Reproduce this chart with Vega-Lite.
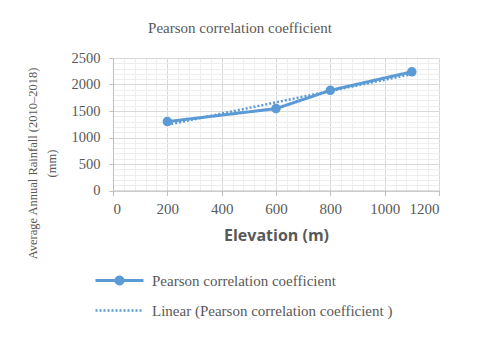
{
  "$schema": "https://vega.github.io/schema/vega-lite/v6.json",
  "width": 326,
  "height": 132.5,
  "autosize": "none",
  "padding": {"left": 113, "top": 58, "right": 41, "bottom": 146.5},
  "background": "white",
  "config": {
    "view": {"stroke": null},
    "font": "Liberation Serif",
    "axis": {"labelFont": "Liberation Serif"}
  },
  "title": {
    "text": "Pearson correlation coefficient",
    "font": "Liberation Serif",
    "fontSize": 15,
    "fontWeight": "normal",
    "color": "#595959",
    "anchor": "middle",
    "dx": -36,
    "offset": 14
  },
  "data": {
    "values": [
      {"elevation": 200, "rainfall": 1300, "series": "Pearson correlation coefficient", "trend": "Linear (Pearson correlation coefficient )"},
      {"elevation": 600, "rainfall": 1545, "series": "Pearson correlation coefficient", "trend": "Linear (Pearson correlation coefficient )"},
      {"elevation": 800, "rainfall": 1890, "series": "Pearson correlation coefficient", "trend": "Linear (Pearson correlation coefficient )"},
      {"elevation": 1100, "rainfall": 2240, "series": "Pearson correlation coefficient", "trend": "Linear (Pearson correlation coefficient )"}
    ]
  },
  "resolve": {"axis": {"x": "independent", "y": "independent"}},
  "layer": [
    {
      "mark": {"type": "point", "opacity": 0},
      "encoding": {
        "x": {"field": "elevation", "type": "quantitative", "scale": {"domain": [0, 1200], "nice": false},
          "axis": {"orient": "bottom", "values": [40,80,120,160,240,280,320,360,440,480,520,560,640,680,720,760,840,880,920,960,1040,1080,1120,1160], "labels": false, "ticks": false, "domain": false, "title": null, "grid": true, "gridColor": "#eeeeee", "gridWidth": 1}},
        "y": {"field": "rainfall", "type": "quantitative", "scale": {"domain": [0, 2500], "nice": false},
          "axis": {"orient": "left", "values": [100,200,300,400,600,700,800,900,1100,1200,1300,1400,1600,1700,1800,1900,2100,2200,2300,2400], "labels": false, "ticks": false, "domain": false, "title": null, "grid": true, "gridColor": "#eeeeee", "gridWidth": 1}}
      }
    },
    {
      "transform": [{"regression": "rainfall", "on": "elevation", "groupby": ["trend"]}],
      "mark": {"type": "line", "color": "#5B9BD5", "strokeWidth": 2.5, "strokeDash": [2, 2]},
      "encoding": {
        "x": {"field": "elevation", "type": "quantitative", "axis": null},
        "y": {"field": "rainfall", "type": "quantitative", "axis": null},
        "strokeDash": {"field": "trend", "type": "nominal"}
      }
    },
    {
      "mark": {"type": "line", "color": "#5B9BD5", "strokeWidth": 3, "point": {"filled": true, "size": 90, "color": "#5B9BD5"}},
      "encoding": {
        "x": {"field": "elevation", "type": "quantitative",
          "axis": {"orient": "bottom", "values": [0,200,400,600,800,1000,1200], "format": "d", "grid": true, "gridColor": "#d9d9d9",
            "domainColor": "#bfbfbf", "tickColor": "#bfbfbf", "tickSize": 5,
            "labelFont": "Liberation Serif", "labelFontSize": 15, "labelColor": "#595959", "labelPadding": 6,
            "title": "Elevation (m)", "titleFont": "Open Sans", "titleFontSize": 16, "titleFontWeight": "bold", "titleColor": "#595959", "titlePadding": 11}},
        "y": {"field": "rainfall", "type": "quantitative",
          "axis": {"orient": "left", "values": [0,500,1000,1500,2000,2500], "format": "d", "grid": true, "gridColor": "#d9d9d9",
            "domainColor": "#bfbfbf", "tickColor": "#bfbfbf", "tickSize": 4,
            "labelFont": "Liberation Serif", "labelFontSize": 14.5, "labelColor": "#595959", "labelPadding": 9,
            "title": ["Average Annual Rainfall (2010–2018)", "(mm)"], "titleFont": "Liberation Serif", "titleFontSize": 12.5, "titleFontWeight": "normal", "titleColor": "#595959",
            "titleAngle": -90, "titleAlign": "center", "titleBaseline": "top", "titleLineHeight": 19, "titleX": -87, "titleY": 105}},
        "strokeDash": {"field": "series", "type": "nominal",
          "scale": {"domain": ["Pearson correlation coefficient", "Linear (Pearson correlation coefficient )"], "range": [[1, 0], [2, 2]]},
          "legend": {
            "title": null, "orient": "none", "legendX": -1, "legendY": 215, "direction": "vertical",
            "symbolSize": 100, "symbolStrokeColor": "#5B9BD5", "symbolStrokeWidth": 2.5,
            "labelFont": "Liberation Serif", "labelFontSize": 15, "labelColor": "#595959", "labelOffset": 25, "labelLimit": 400,
            "rowPadding": 13,
            "encode": {
              "symbols": {
                "update": {
                  "shape": {"signal": "datum.value === 'Pearson correlation coefficient' ? 'M-4.8,0H4.8M-0.7,0A0.7,0.7 0 1,0 0.7,0A0.7,0.7 0 1,0 -0.7,0' : 'M-4.8,0H4.8'"},
                  "fill": {"signal": "datum.value === 'Pearson correlation coefficient' ? '#5B9BD5' : 'transparent'"},
                  "stroke": {"value": "#5B9BD5"},
                  "strokeWidth": {"signal": "datum.value === 'Pearson correlation coefficient' ? 3 : 2.5"},
                  "strokeDash": {"signal": "datum.value === 'Pearson correlation coefficient' ? [1, 0] : [2, 2]"},
                  "opacity": {"value": 1}
                }
              }
            }
          }}
      }
    }
  ]
}
